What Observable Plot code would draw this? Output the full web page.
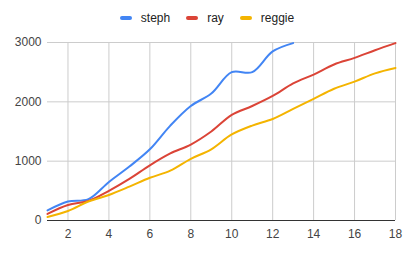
<!DOCTYPE html>
<html><head><meta charset="utf-8">
<script src="https://cdn.jsdelivr.net/npm/d3@7"></script>
<script src="https://cdn.jsdelivr.net/npm/@observablehq/plot@0.6"></script>
<style>
body{margin:0;background:#fff;font-family:"Liberation Sans",Arial,sans-serif;}
#legend{height:36px;display:flex;justify-content:center;align-items:center;gap:0;font-size:12px;color:#222;padding-left:6px;box-sizing:border-box;}
.item{display:flex;align-items:center;margin:0 8px;}
.sw{width:12px;height:4px;border-radius:2px;margin-right:9px;}
</style></head>
<body>
<div id="legend"></div>
<div id="chart"></div>
<script>
const xs = [1,2,3,4,5,6,7,8,9,10,11,12,13,14,15,16,17,18];
const steph = [170,320,360,650,910,1200,1600,1930,2140,2500,2500,2850,2990];
const ray = [110,260,330,500,700,930,1130,1280,1500,1780,1930,2100,2310,2460,2630,2740,2870,2990];
const reggie = [60,160,320,430,570,720,840,1040,1200,1450,1600,1710,1880,2050,2220,2340,2480,2570];
const seriesNames = ["steph","ray","reggie"];
const seriesColors = ["#4285F4","#DB4437","#F4B400"];
const xTicks = [2,4,6,8,10,12,14,16,18];
const yTicks = [0,1000,2000,3000];

const allSeries = [steph, ray, reggie];
const data = [];
allSeries.forEach((vals, i) => vals.forEach((v, j) => data.push({x: xs[j], y: v, s: seriesNames[i]})));

const leg = document.getElementById("legend");
seriesNames.forEach((n, i) => {
  const it = document.createElement("div"); it.className = "item";
  const sw = document.createElement("div"); sw.className = "sw"; sw.style.background = seriesColors[i];
  const t = document.createElement("span"); t.textContent = n;
  it.appendChild(sw); it.appendChild(t); leg.appendChild(it);
});

const chart = Plot.plot({
  width: 408, height: 217,
  marginTop: 6, marginBottom: 33, marginLeft: 47, marginRight: 13,
  style: {fontFamily: '"Liberation Sans",Arial,sans-serif', fontSize: "12px", color: "#444", background: "#fff"},
  x: {domain: [1,18], ticks: xTicks, label: null, tickSize: 0, tickPadding: 9, tickFormat: "d"},
  y: {domain: [0,3000], ticks: yTicks, label: null, tickSize: 0, tickPadding: 6, tickFormat: "d"},
  color: {domain: seriesNames, range: seriesColors},
  marks: [
    Plot.ruleX(xTicks, {stroke: "#ccc", strokeWidth: 1}),
    Plot.ruleY(yTicks.filter(d => d > 0), {stroke: "#ccc", strokeWidth: 1}),
    Plot.ruleY([0], {stroke: "#333", strokeWidth: 1}),
    Plot.line(data, {x: "x", y: "y", z: "s", stroke: "s", strokeWidth: 2, curve: "catmull-rom"})
  ]
});
document.getElementById("chart").appendChild(chart);
</script>
</body></html>
